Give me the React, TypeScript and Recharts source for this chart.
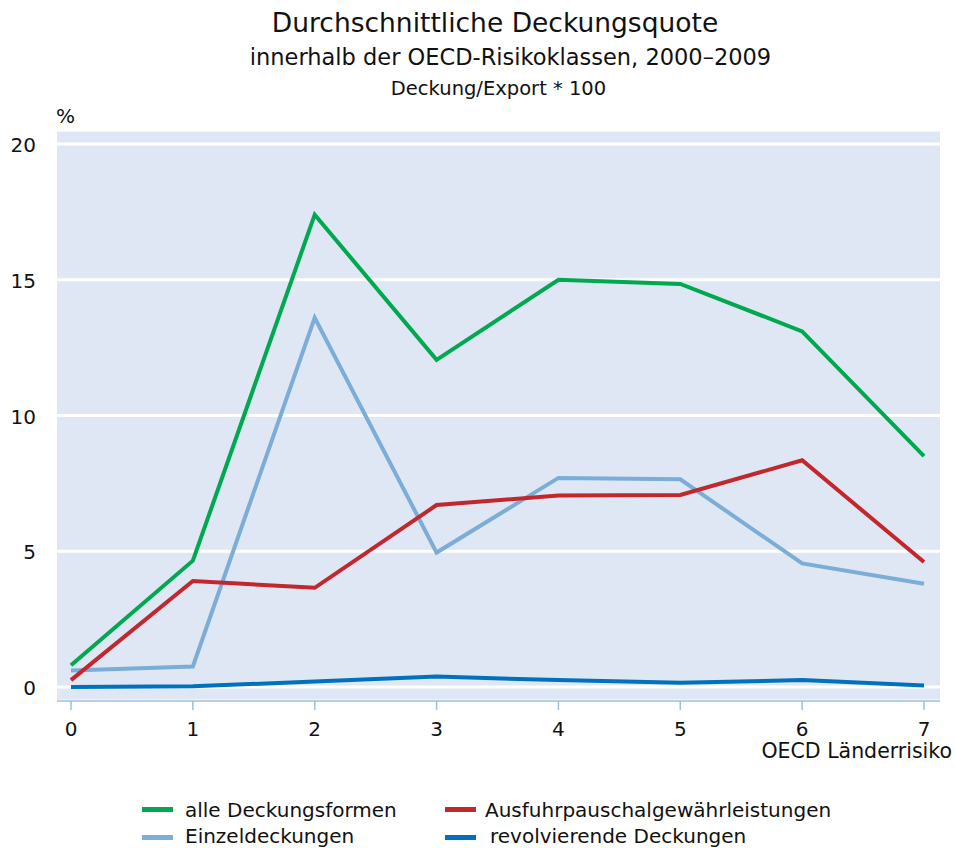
import React from 'react';
import { LineChart, Line, XAxis, YAxis, CartesianGrid } from 'recharts';

// OECD country risk classes 0..7
const riskClasses = [0, 1, 2, 3, 4, 5, 6, 7];
const alleDeckungsformen = [0.8, 4.65, 17.4, 12.05, 15.0, 14.85, 13.1, 8.5];
const einzeldeckungen = [0.6, 0.75, 13.6, 4.95, 7.7, 7.65, 4.55, 3.8];
const ausfuhrpauschal = [0.25, 3.9, 3.65, 6.7, 7.05, 7.07, 8.35, 4.6];
const revolvierende = [0.0, 0.02, 0.2, 0.38, 0.25, 0.15, 0.25, 0.05];
const yTicks = [0, 5, 10, 15, 20];

const FONT = '"DejaVu Sans", sans-serif';
const AXIS_BLUE = '#9fbfe1';

const series = [
  { key: 'einzel', name: 'Einzeldeckungen', color: '#7badd7' },
  { key: 'ausfuhr', name: 'Ausfuhrpauschalgewährleistungen', color: '#c1272d' },
  { key: 'alle', name: 'alle Deckungsformen', color: '#00a84f' },
  { key: 'revolv', name: 'revolvierende Deckungen', color: '#0071bd' },
];

// legend order as in the picture (row by row)
const legendOrder = ['alle', 'ausfuhr', 'einzel', 'revolv'];

const data = riskClasses.map((r, i) => ({
  risk: r,
  alle: alleDeckungsformen[i],
  einzel: einzeldeckungen[i],
  ausfuhr: ausfuhrpauschal[i],
  revolv: revolvierende[i],
}));

const YTick = ({ x, y, payload }: any) => (
  <text x={x} y={y + 8} textAnchor="end" fontSize={20} fontFamily={FONT} fill="#111">
    {payload.value}
  </text>
);

const XTick = ({ x, y, payload }: any) => (
  <text x={x} y={y + 20} textAnchor="middle" fontSize={20} fontFamily={FONT} fill="#111">
    {payload.value}
  </text>
);

const abs = (style: React.CSSProperties): React.CSSProperties => ({
  position: 'absolute',
  whiteSpace: 'nowrap',
  fontFamily: FONT,
  color: '#111',
  ...style,
});

export default function App() {
  return (
    <div style={{ position: 'absolute', left: 0, top: 0, width: 955, height: 848, background: '#fff' }}>
      <LineChart
        width={955}
        height={848}
        data={data}
        margin={{ top: 130, right: 15, left: 0, bottom: 87 }}
      >
        <CartesianGrid vertical={false} stroke="#ffffff" strokeWidth={3} fill="#dfe7f4" />
        <XAxis
          dataKey="risk"
          type="number"
          domain={[0, 7]}
          ticks={riskClasses}
          padding={{ left: 14, right: 16 }}
          height={60}
          stroke={AXIS_BLUE}
          axisLine={{ stroke: AXIS_BLUE, strokeWidth: 1.5 }}
          tickLine={{ stroke: AXIS_BLUE, strokeWidth: 1.5 }}
          tickSize={9}
          tickMargin={6}
          tick={<XTick />}
        />
        <YAxis
          type="number"
          domain={[-0.52, 20.52]}
          ticks={yTicks}
          width={57}
          axisLine={false}
          tickLine={false}
          tickSize={0}
          tickMargin={21}
          tick={<YTick />}
        />
        {series.map((s) => (
          <Line
            key={s.key}
            type="linear"
            dataKey={s.key}
            name={s.name}
            stroke={s.color}
            strokeWidth={4}
            dot={false}
            activeDot={false}
            isAnimationActive={false}
          />
        ))}
      </LineChart>

      {/* Titles */}
      <div style={abs({ left: 495, top: 9.5, fontSize: 26.5, lineHeight: '26.5px', transform: 'translateX(-50%)' })}>
        Durchschnittliche Deckungsquote
      </div>
      <div style={abs({ left: 510.5, top: 46, fontSize: 22.5, lineHeight: '22.5px', transform: 'translateX(-50%)' })}>
        innerhalb der OECD-Risikoklassen, 2000–2009
      </div>
      <div style={abs({ left: 498.5, top: 78.5, fontSize: 19.5, lineHeight: '19.5px', transform: 'translateX(-50%)' })}>
        Deckung/Export * 100
      </div>
      <div style={abs({ left: 56, top: 106, fontSize: 20, lineHeight: '20px' })}>%</div>
      <div style={abs({ right: 3, top: 741, fontSize: 20.5, lineHeight: '20.5px' })}>OECD Länderrisiko</div>

      {/* Legend */}
      {legendOrder.map((k, i) => {
        const s = series.find((d) => d.key === k)!;
        const col = i % 2;
        const row = Math.floor(i / 2);
        const swatchLeft = col === 0 ? 142 : 445;
        const textLeft = col === 0 ? 185 : k === 'revolv' ? 490 : 485;
        const swatchTop = row === 0 ? 808 : 836;
        const textTop = row === 0 ? 800 : 826;
        return (
          <React.Fragment key={k}>
            <div
              style={{
                position: 'absolute',
                left: swatchLeft,
                top: swatchTop - 1,
                width: 31,
                height: 5,
                background: s.color,
              }}
            />
            <div style={abs({ left: textLeft, top: textTop, fontSize: 20, lineHeight: '20px' })}>{s.name}</div>
          </React.Fragment>
        );
      })}
    </div>
  );
}
